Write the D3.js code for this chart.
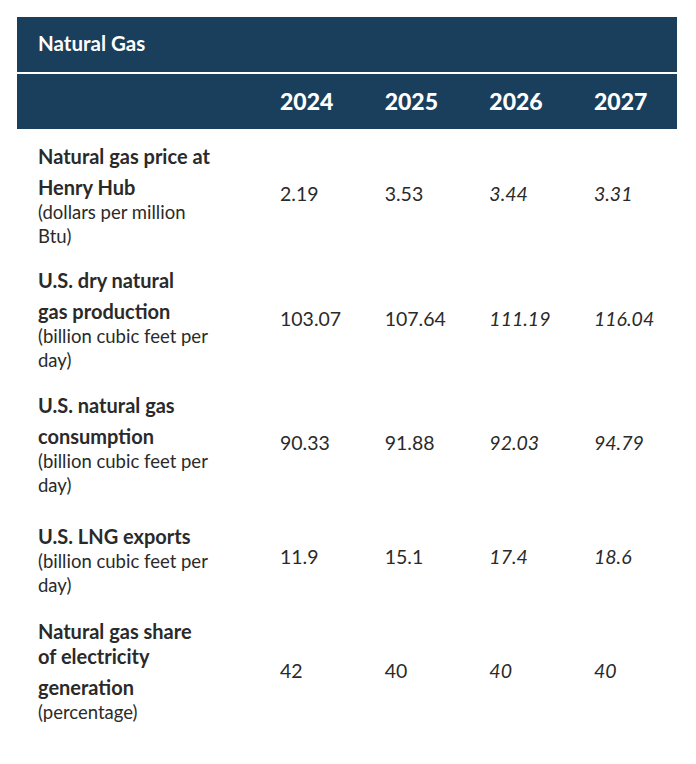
<!DOCTYPE html>
<html><head><meta charset="utf-8">
<script src="https://cdn.jsdelivr.net/npm/d3@7"></script>
<style>body{margin:0;background:#fff}</style></head>
<body><svg id="c" width="696" height="764"></svg>
<script>
const title = "Natural Gas";
const years = ["2024","2025","2026","2027"];
const italicYears = ["2026","2027"];
const labelsBold = [
  ["Natural gas price at","Henry Hub"],
  ["U.S. dry natural","gas production"],
  ["U.S. natural gas","consumption"],
  ["U.S. LNG exports"],
  ["Natural gas share","of electricity","generation"]
];
const labelsUnit = [
  ["(dollars per million","Btu)"],
  ["(billion cubic feet per","day)"],
  ["(billion cubic feet per","day)"],
  ["(billion cubic feet per","day)"],
  ["(percentage)"]
];
const values = [
  ["2.19","3.53","3.44","3.31"],
  ["103.07","107.64","111.19","116.04"],
  ["90.33","91.88","92.03","94.79"],
  ["11.9","15.1","17.4","18.6"],
  ["42","40","40","40"]
];
const svg = d3.select("#c");
const font = "Lato, 'Noto Sans', sans-serif";
const navy = "#1a3f5c";
svg.append("rect").attr("x",17).attr("y",17).attr("width",660).attr("height",55).attr("fill",navy);
svg.append("rect").attr("x",17).attr("y",74).attr("width",660).attr("height",55).attr("fill",navy);
svg.append("text").attr("x",38).attr("y",51).text(title).attr("fill","#fff")
  .attr("font-family",font).attr("font-weight",700).attr("font-size",20.5);
const x = d3.scalePoint().domain(years).range([280,594]);
svg.selectAll(".yr").data(years).join("text").attr("x",d=>x(d)).attr("y",110).text(d=>d)
  .attr("fill","#fff").attr("font-family",font).attr("font-weight",900).attr("font-size",23);
const rowTop = [164,288,413,544,639];
const valY = [201,326,450,564,678];
labelsBold.forEach((lb,i)=>{
  const g = svg.append("g");
  const bStep = i===4 ? [0,25,56] : [0,31,62];
  lb.forEach((t,j)=>g.append("text").attr("x",38).attr("y",rowTop[i]+bStep[j]).text(t)
    .attr("font-family",font).attr("font-weight",700).attr("font-size",20).attr("fill","#2a2a2a"));
  let uy = rowTop[i]+bStep[lb.length-1]+24;
  labelsUnit[i].forEach((t,j)=>g.append("text").attr("x",38).attr("y",uy+j*24).text(t)
    .attr("font-family",font).attr("font-size",18.5).attr("fill","#2a2a2a"));
  g.selectAll(".v").data(values[i]).join("text").attr("x",(d,k)=>x(years[k])).attr("y",valY[i])
    .text(d=>d).attr("font-family",font).attr("font-size",19.5).attr("fill","#2a2a2a")
    .attr("font-style",(d,k)=>italicYears.includes(years[k])?"italic":"normal");
});
</script></body></html>
